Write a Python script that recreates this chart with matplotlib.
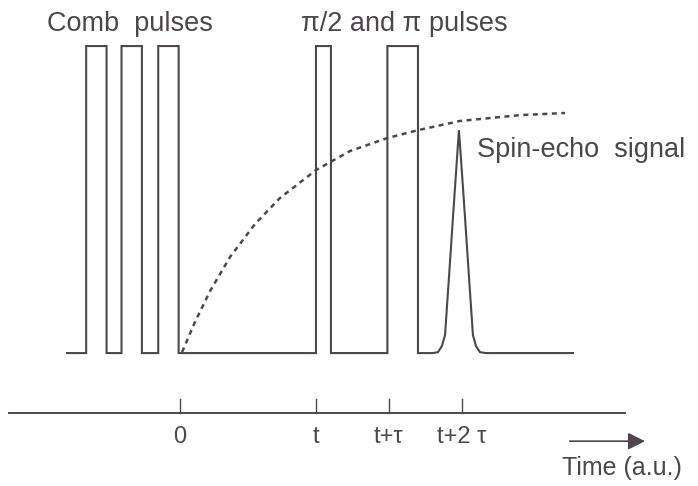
import matplotlib
matplotlib.use('Agg')
from matplotlib import pyplot as plt

"""
Pulse sequence sketch: comb pulses, pi/2 and pi pulses, spin-echo signal
"""

plt.rcParams['font.family'] = ['Liberation Sans', 'DejaVu Sans']

# time in units of t, amplitude in units of pulse height
tau = 0.535
comb_pulses = [(-0.69, -0.54), (-0.43, -0.28), (-0.16, -0.01)]
echo_pulses = [(1.0, 1.11), (1.525, 1.75)]
baseline = (-0.83, 2.89)

echo_x = [1.860, 1.897, 1.926, 1.949, 1.978, 2.007, 2.029, 2.051,
          2.074, 2.096, 2.125, 2.154, 2.176, 2.206, 2.250]
echo_y = [0.0, 0.003, 0.023, 0.059, 0.248, 0.440, 0.583, 0.726,
          0.583, 0.440, 0.248, 0.059, 0.023, 0.003, 0.0]

recov_x = [0.015, 0.110, 0.221, 0.368, 0.551, 0.735, 1.0, 1.25, 1.522, 1.75, 2.059, 2.5, 2.831]
recov_y = [0.003, 0.101, 0.202, 0.313, 0.420, 0.505, 0.596, 0.658, 0.700, 0.726, 0.756, 0.775, 0.782]

tick_pos = [0, 1, 1 + tau, 1 + 2 * tau]
tick_labels = ['0', 't', 't+\u03c4', 't+2 \u03c4']

col = '#4d474b'

fig = plt.figure(figsize=(6.98, 4.86), dpi=100)
ax = fig.add_axes([0, 0, 1, 1])
ax.set_xlim(-1.3235, 3.809)
ax.set_ylim(-0.433, 1.150)
ax.axis('off')

# pulse train as one step trace
px = [baseline[0]]
py = [0]
for a, b in comb_pulses + echo_pulses:
    px += [a, a, b, b]
    py += [0, 1, 1, 0]
px += echo_x
py += echo_y
px += [baseline[1]]
py += [0]
ax.plot(px, py, color=col, lw=1.5, solid_joinstyle='miter')

ax.plot(recov_x, recov_y, color=col, lw=1.8, linestyle=(0, (2.0, 1.8)))

# time axis
ax.plot([-1.257, 3.272], [-0.195, -0.195], color=col, lw=1.4)
for p, lab in zip(tick_pos, tick_labels):
    ax.plot([p, p], [-0.195, -0.150], color=col, lw=1.0)
    ax.text(p, -0.274, lab, ha='center', va='center', fontsize=17, color=col)

ax.annotate('', xy=(3.44, -0.287), xytext=(2.846, -0.287),
            arrowprops=dict(arrowstyle='-|>', color=col, lw=1.2, mutation_scale=26))
ax.text(3.25, -0.375, 'Time (a.u.)', ha='center', va='center', fontsize=18, color=col)

ax.text(-0.368, 1.072, 'Comb  pulses', ha='center', va='center', fontsize=19.5, color=col)
ax.text(1.647, 1.072, '\u03c0/2 and \u03c0 pulses', ha='center', va='center', fontsize=19.5, color=col)
ax.text(2.184, 0.661, 'Spin-echo  signal', ha='left', va='center', fontsize=19.5, color=col)

fig.savefig('out.png', dpi=100)
